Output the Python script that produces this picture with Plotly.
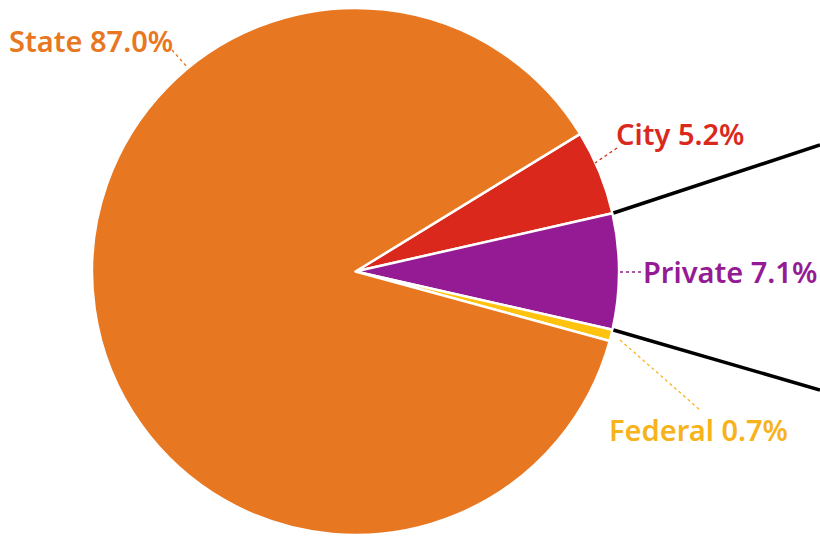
import math
import plotly.graph_objects as go

# ---- data ----
labels = ["City", "Private", "Federal", "State"]
values = [5.2, 7.1, 0.7, 87.0]
colors = ["#DA291C", "#951B95", "#FFC20E", "#E87722"]
text_colors = ["#DA291C", "#951B95", "#F7B31C", "#E87722"]

# ---- layout constants ----
W, H = 820, 537
CX, CY, R = 355.5, 271.5, 263.5    # pie centre / radius in px
# label anchor (left x, middle y) and leader line (x0,y0,x1,y1) in px
label_pos = {"City": (615, 134), "Private": (642, 271), "Federal": (608, 429), "State": (8, 41)}
leaders = {"City": (617, 148, 595, 163), "Private": (620, 272, 644, 272),
           "Federal": (620, 340, 700, 410), "State": (172, 50, 188, 68)}
connector_end = [(820, 145), (820, 390)]

def px(x):
    return x / W

def py(y):
    return 1 - y / H

total = sum(values)
# rotate so that the Private slice is centred on 3 o'clock
i_priv = labels.index("Private")
start_before_priv = sum(values[:i_priv])
rotation = 90 - (start_before_priv + values[i_priv] / 2) / total * 360

fig = go.Figure(go.Pie(
    labels=labels, values=values, sort=False, direction="clockwise",
    rotation=rotation, textinfo="none", hoverinfo="label+percent",
    marker=dict(colors=colors, line=dict(color="white", width=2.5)),
    domain=dict(x=[px(CX - R), px(CX + R)], y=[py(CY + R), py(CY - R)]),
    showlegend=False,
))

shapes = []
# connector lines from the edges of the Private slice (angles from data)
a_start = rotation + start_before_priv / total * 360
a_end = a_start + values[i_priv] / total * 360
for ang, (ex, ey) in zip([a_start, a_end], connector_end):
    t = math.radians(ang)
    sx = CX + (R + 1) * math.sin(t)
    sy = CY - (R + 1) * math.cos(t)
    shapes.append(dict(type="line", xref="paper", yref="paper",
                       x0=px(sx), y0=py(sy), x1=px(ex), y1=py(ey),
                       line=dict(color="black", width=3.5)))

annotations = []
for lab, val, tc in zip(labels, values, text_colors):
    x0, y0, x1, y1 = leaders[lab]
    shapes.append(dict(type="line", xref="paper", yref="paper",
                       x0=px(x0), y0=py(y0), x1=px(x1), y1=py(y1),
                       line=dict(color=tc, width=1.3, dash="dot")))
    lx, ly = label_pos[lab]
    annotations.append(dict(x=px(lx), y=py(ly), xref="paper", yref="paper",
                            xanchor="left", yanchor="middle", showarrow=False,
                            text=f"{lab} {val:.1f}%", borderpad=0,
                            font=dict(family="Noto Sans", size=29, color=tc, weight=600)))

fig.update_layout(width=W, height=H, margin=dict(l=0, r=0, t=0, b=0),
                  paper_bgcolor="white", plot_bgcolor="white",
                  shapes=shapes, annotations=annotations)
fig.write_html("out.html")
